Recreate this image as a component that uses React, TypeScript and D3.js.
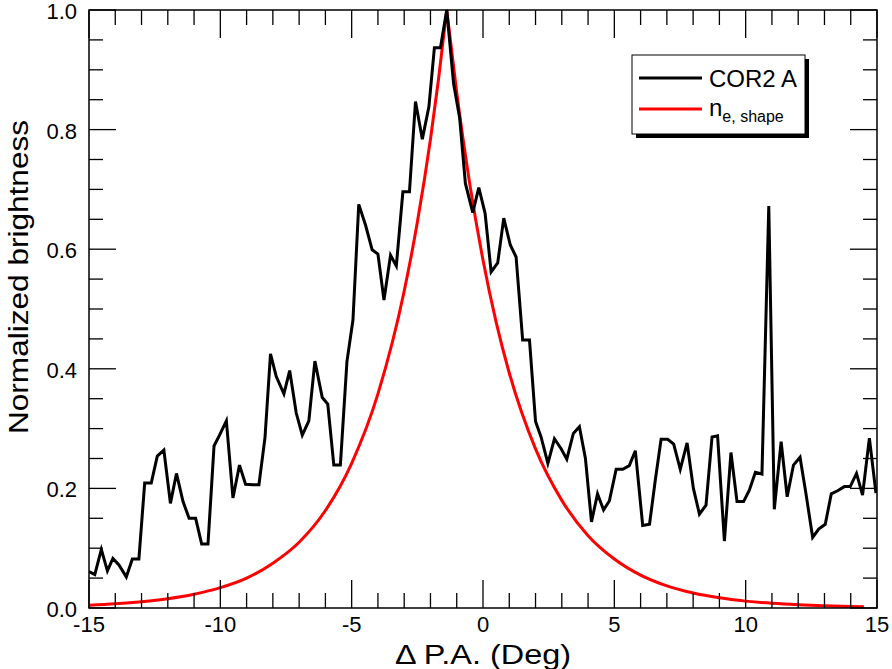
import { useMemo } from 'react';
import * as d3 from 'd3';

// COR2 A brightness profile, sampled across the position angle
const corX = [
    -15.0, -14.78, -14.53, -14.3, -14.09, -13.86, -13.58, -13.35, -13.1, -12.88, -12.63, -12.4,
    -12.15, -11.9, -11.67, -11.42, -11.19, -10.94, -10.71, -10.47, -10.24, -10.03, -9.77, -9.52,
    -9.27, -9.04, -8.76, -8.53, -8.3, -8.09, -7.87, -7.58, -7.36, -7.11, -6.88, -6.63, -6.4, -6.12,
    -5.91, -5.68, -5.43, -5.18, -4.95, -4.73, -4.47, -4.22, -4.0, -3.77, -3.52, -3.3, -3.05, -2.8,
    -2.57, -2.31, -2.06, -1.85, -1.62, -1.38, -1.12, -0.89, -0.67, -0.39, -0.16, 0.08, 0.31, 0.56,
    0.79, 1.04, 1.26, 1.51, 1.77, 2.0, 2.21, 2.47, 2.72, 2.98, 3.19, 3.44, 3.67, 3.9, 4.13, 4.36,
    4.59, 4.81, 5.07, 5.32, 5.57, 5.8, 6.08, 6.34, 6.56, 6.78, 7.03, 7.26, 7.51, 7.77, 8.01, 8.24,
    8.49, 8.72, 8.93, 9.19, 9.44, 9.67, 9.92, 10.14, 10.37, 10.62, 10.88, 11.09, 11.35, 11.58,
    11.82, 12.07, 12.3, 12.55, 12.78, 13.03, 13.26, 13.5, 13.76, 13.98, 14.22, 14.45, 14.71, 14.96,
];
const corY = [
    0.061, 0.056, 0.098, 0.062, 0.083, 0.072, 0.052, 0.082, 0.082, 0.209, 0.209, 0.254, 0.264,
    0.175, 0.225, 0.178, 0.15, 0.15, 0.107, 0.107, 0.271, 0.289, 0.313, 0.184, 0.239, 0.207, 0.206,
    0.206, 0.285, 0.425, 0.387, 0.358, 0.397, 0.326, 0.289, 0.313, 0.413, 0.352, 0.341, 0.239,
    0.239, 0.412, 0.482, 0.675, 0.64, 0.599, 0.592, 0.515, 0.59, 0.572, 0.696, 0.696, 0.847, 0.784,
    0.838, 0.937, 0.937, 1.0, 0.877, 0.82, 0.71, 0.661, 0.703, 0.66, 0.562, 0.577, 0.652, 0.607,
    0.587, 0.448, 0.448, 0.312, 0.286, 0.242, 0.283, 0.266, 0.249, 0.292, 0.303, 0.25, 0.144,
    0.191, 0.164, 0.179, 0.232, 0.232, 0.238, 0.263, 0.138, 0.14, 0.214, 0.282, 0.282, 0.274,
    0.232, 0.276, 0.2, 0.157, 0.172, 0.286, 0.288, 0.112, 0.26, 0.178, 0.178, 0.197, 0.227, 0.224,
    0.672, 0.165, 0.278, 0.186, 0.239, 0.252, 0.19, 0.118, 0.132, 0.14, 0.191, 0.196, 0.203, 0.203,
    0.225, 0.189, 0.284, 0.192,
];

// n_e, shape model curve
const shapeX = [
    -15, -14, -13, -12, -11, -10, -9, -8, -7, -6, -5, -4, -3, -2.5, -2, -1.7, -1.38, -1, -0.5, 0,
    0.5, 1, 2, 3, 4, 5, 6, 7, 8, 9, 10, 11, 12, 13, 14, 14.5,
];
const shapeY = [
    0.0048, 0.0071, 0.0105, 0.0155, 0.023, 0.034, 0.05, 0.075, 0.11, 0.163, 0.242, 0.358, 0.53,
    0.645, 0.784, 0.882, 1.0, 0.862, 0.708, 0.582, 0.478, 0.393, 0.266, 0.18, 0.121, 0.082, 0.055,
    0.037, 0.025, 0.017, 0.0115, 0.0078, 0.0053, 0.0036, 0.0024, 0.002,
];

const xMajor = [-15, -10, -5, 0, 5, 10, 15];
const yMajor = [0, 0.2, 0.4, 0.6, 0.8, 1.0];

const W = 892;
const H = 669;
const margin = { top: 10, right: 15, bottom: 61, left: 89 };
const FONT = '"Liberation Sans", Arial, Helvetica, sans-serif';

export default function App() {
    const x = useMemo(
        () => d3.scaleLinear().domain([-15, 15]).range([margin.left, W - margin.right]),
        []
    );
    const y = useMemo(
        () => d3.scaleLinear().domain([0, 1]).range([H - margin.bottom, margin.top]),
        []
    );

    const corPath = useMemo(() => {
        const pts = corX.map((d, i) => [d, corY[i]] as [number, number]);
        return d3
            .line<[number, number]>()
            .x((d) => x(d[0]))
            .y((d) => y(d[1]))(pts);
    }, [x, y]);

    // split at the peak so the cusp stays sharp
    const shapePath = useMemo(() => {
        const pts = shapeX.map((d, i) => [d, shapeY[i]] as [number, number]);
        const peak = d3.maxIndex(shapeY);
        const line = d3
            .line<[number, number]>()
            .x((d) => x(d[0]))
            .y((d) => y(d[1]))
            .curve(d3.curveMonotoneX);
        return `${line(pts.slice(0, peak + 1))}${line(pts.slice(peak))}`;
    }, [x, y]);

    const x0 = x.range()[0];
    const x1 = x.range()[1];
    const yb = y.range()[0];
    const yt = y.range()[1];
    const xMinor = d3.ticks(-15, 15, 30);
    const yMinor = d3.ticks(0, 1, 20);

    return (
        <svg
            width={W}
            height={H}
            style={{ position: 'absolute', left: 0, top: 0, background: '#fff' }}
            fontFamily={FONT}
        >
            <defs>
                <clipPath id="plot">
                    <rect x={x0} y={yt - 2} width={x1 - x0} height={yb - yt + 2} />
                </clipPath>
            </defs>
            <g clipPath="url(#plot)" fill="none" strokeLinejoin="miter">
                <path d={shapePath ?? ''} stroke="#ff0000" strokeWidth={3} />
                <path d={corPath ?? ''} stroke="#000" strokeWidth={3} />
            </g>

            {/* ticks on all four sides, pointing inward */}
            <g stroke="#000" strokeWidth={1.3}>
                {xMinor.map((t) => {
                    const len = xMajor.includes(t) ? 28 : 15;
                    return (
                        <g key={`x${t}`}>
                            <line x1={x(t)} x2={x(t)} y1={yb} y2={yb - len} />
                            <line x1={x(t)} x2={x(t)} y1={yt} y2={yt + len} />
                        </g>
                    );
                })}
                {yMinor.map((t) => {
                    const len = yMajor.some((m) => Math.abs(m - t) < 1e-9) ? 27 : 14;
                    return (
                        <g key={`y${t}`}>
                            <line x1={x0} x2={x0 + len} y1={y(t)} y2={y(t)} />
                            <line x1={x1} x2={x1 - len} y1={y(t)} y2={y(t)} />
                        </g>
                    );
                })}
                <rect
                    x={x0}
                    y={yt}
                    width={x1 - x0}
                    height={yb - yt}
                    fill="none"
                    strokeWidth={1.5}
                />
            </g>

            <g fontSize={22} fill="#000">
                {xMajor.map((t) => (
                    <text key={t} x={x(t)} y={yb + 24} textAnchor="middle">
                        {t}
                    </text>
                ))}
                {yMajor.map((t) => (
                    <text key={t} x={x0 - 12} y={y(t) + 9} textAnchor="end">
                        {d3.format('.1f')(t)}
                    </text>
                ))}
            </g>

            <text
                x={(x0 + x1) / 2}
                y={664}
                fontSize={27}
                textAnchor="middle"
                textLength={176}
                lengthAdjust="spacingAndGlyphs"
            >
                Δ P.A. (Deg)
            </text>
            <text
                transform={`translate(28, 277) rotate(-90)`}
                fontSize={27}
                textAnchor="middle"
                textLength={314}
                lengthAdjust="spacingAndGlyphs"
            >
                Normalized brightness
            </text>

            {/* legend */}
            <g>
                <rect x={636} y={59} width={173} height={79} fill="#000" />
                <rect x={632} y={55} width={173} height={79} fill="#fff" stroke="#000" />
                <line x1={639} x2={702} y1={78} y2={78} stroke="#000" strokeWidth={3} />
                <line x1={639} x2={702} y1={109} y2={109} stroke="#ff0000" strokeWidth={3} />
                <text x={709} y={87} fontSize={24}>
                    COR2 A
                </text>
                <text x={709} y={116} fontSize={24}>
                    n
                    <tspan fontSize={16} dy={6}>
                        e, shape
                    </tspan>
                </text>
            </g>
        </svg>
    );
}
